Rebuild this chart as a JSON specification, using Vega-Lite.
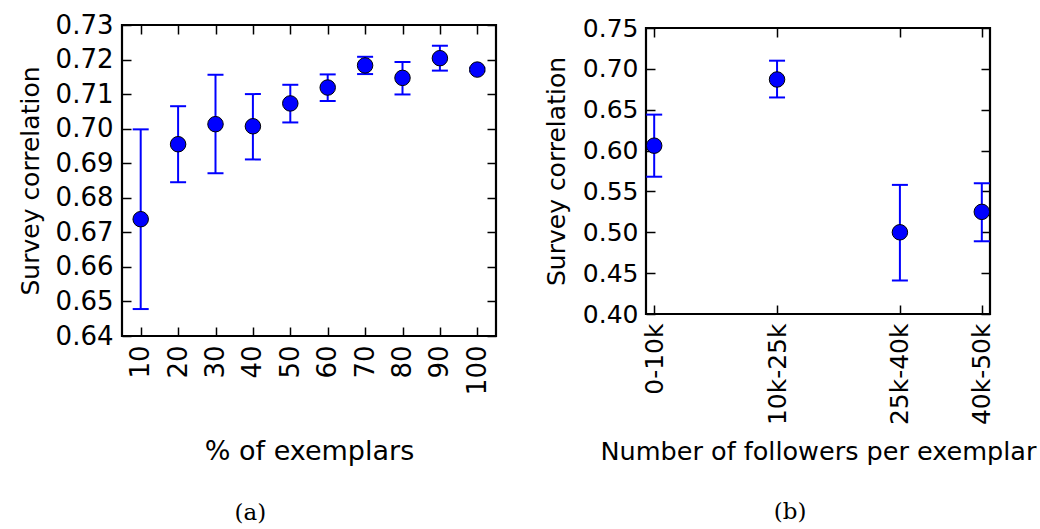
{
  "$schema": "https://vega.github.io/schema/vega-lite/v6.json",
  "background": "white",
  "padding": {"left": 17, "top": 9, "right": 0, "bottom": 0},
  "datasets": {
    "a": [
      {"pct": 10, "r": 0.6738, "lo": 0.6478, "hi": 0.6998},
      {"pct": 20, "r": 0.6955, "lo": 0.6845, "hi": 0.7065},
      {"pct": 30, "r": 0.7013, "lo": 0.6871, "hi": 0.7156},
      {"pct": 40, "r": 0.7007, "lo": 0.6911, "hi": 0.7100},
      {"pct": 50, "r": 0.7073, "lo": 0.7018, "hi": 0.7127},
      {"pct": 60, "r": 0.7119, "lo": 0.7080, "hi": 0.7157},
      {"pct": 70, "r": 0.7183, "lo": 0.7158, "hi": 0.7208},
      {"pct": 80, "r": 0.7147, "lo": 0.7099, "hi": 0.7193},
      {"pct": 90, "r": 0.7204, "lo": 0.7168, "hi": 0.7240},
      {"pct": 100, "r": 0.7171, "lo": 0.7166, "hi": 0.7176}
    ],
    "b": [
      {"bin": "0-10k", "k": 10, "r": 0.606, "lo": 0.568, "hi": 0.644},
      {"bin": "10k-25k", "k": 25, "r": 0.687, "lo": 0.665, "hi": 0.710},
      {"bin": "25k-40k", "k": 40, "r": 0.500, "lo": 0.441, "hi": 0.558},
      {"bin": "40k-50k", "k": 50, "r": 0.525, "lo": 0.489, "hi": 0.560}
    ],
    "empty": []
  },
  "config": {
    "view": {"stroke": "black", "strokeWidth": 2.2},
    "axis": {
      "domain": false, "grid": false,
      "labelFont": "DejaVu Sans", "titleFont": "DejaVu Sans",
      "labelColor": "black", "titleColor": "black", "tickColor": "black",
      "titleFontWeight": "normal", "tickWidth": 1.5
    }
  },
  "spacing": 45,
  "hconcat": [
    {
      "spacing": 0,
      "vconcat": [
        {"width": 1, "height": 1, "data": {"name": "empty"}, "mark": "point", "view": {"stroke": null}},
        {
          "width": 374, "height": 311,
          "data": {"name": "a"},
          "title": {"text": "(a)", "orient": "bottom", "anchor": "middle", "frame": "bounds", "font": "DejaVu Serif", "fontSize": 23, "fontWeight": "normal", "color": "black", "offset": 37, "dx": -7},
          "layer": [
            {
              "mark": {"type": "rule", "color": "#0000ff", "strokeWidth": 2},
              "encoding": {
                "x": {"field": "pct", "type": "quantitative", "scale": {"domain": [5, 105], "nice": false, "zero": false},
                  "axis": {"orient": "bottom", "values": [10,20,30,40,50,60,70,80,90,100], "labelAngle": -90, "labelFontSize": 26, "tickSize": -9, "labelPadding": 18, "title": "% of exemplars", "titleFontSize": 27, "titlePadding": 44}},
                "y": {"field": "lo", "type": "quantitative", "scale": {"domain": [0.64, 0.73], "nice": false, "zero": false},
                  "axis": {"orient": "left", "values": [0.64,0.65,0.66,0.67,0.68,0.69,0.70,0.71,0.72,0.73], "format": ".2f", "labelFontSize": 26, "tickSize": -9, "labelPadding": 18, "title": "Survey correlation", "titleFontSize": 25, "titlePadding": 12}},
                "y2": {"field": "hi"}
              }
            },
            {
              "mark": {"type": "tick", "orient": "horizontal", "color": "#0000ff", "size": 16, "thickness": 2, "opacity": 1},
              "encoding": {
                "x": {"field": "pct", "type": "quantitative", "axis": null},
                "y": {"field": "lo", "type": "quantitative", "axis": null}
              }
            },
            {
              "mark": {"type": "tick", "orient": "horizontal", "color": "#0000ff", "size": 16, "thickness": 2, "opacity": 1},
              "encoding": {
                "x": {"field": "pct", "type": "quantitative", "axis": null},
                "y": {"field": "hi", "type": "quantitative", "axis": null}
              }
            },
            {
              "mark": {"type": "point", "shape": "circle", "filled": true, "fill": "#0000ff", "stroke": "black", "strokeWidth": 1, "size": 240, "opacity": 1},
              "encoding": {
                "x": {"field": "pct", "type": "quantitative",
                  "axis": {"orient": "top", "values": [10,20,30,40,50,60,70,80,90,100], "labels": false, "tickSize": -9, "title": null}},
                "y": {"field": "r", "type": "quantitative",
                  "axis": {"orient": "right", "values": [0.64,0.65,0.66,0.67,0.68,0.69,0.70,0.71,0.72,0.73], "labels": false, "tickSize": -9, "title": null}}
              }
            }
          ],
          "resolve": {"axis": {"x": "independent", "y": "independent"}}
        }
      ]
    },
    {
      "spacing": 0,
      "vconcat": [
        {"width": 1, "height": 5, "data": {"name": "empty"}, "mark": "point", "view": {"stroke": null}},
        {
          "width": 344, "height": 286,
          "data": {"name": "b"},
          "title": {"text": "(b)", "orient": "bottom", "anchor": "middle", "frame": "bounds", "font": "DejaVu Serif", "fontSize": 23, "fontWeight": "normal", "color": "black", "offset": 36},
          "layer": [
            {
              "mark": {"type": "rule", "color": "#0000ff", "strokeWidth": 2},
              "encoding": {
                "x": {"field": "k", "type": "quantitative", "scale": {"domain": [9, 51], "nice": false, "zero": false},
                  "axis": {"orient": "bottom", "values": [10, 25, 40, 50], "labelExpr": "datum.value == 10 ? '0-10k' : datum.value == 25 ? '10k-25k' : datum.value == 40 ? '25k-40k' : '40k-50k'", "labelAngle": -90, "labelFontSize": 25, "tickSize": -9, "labelPadding": 18, "title": "Number of followers per exemplar", "titleFontSize": 25.5, "titlePadding": 15}},
                "y": {"field": "lo", "type": "quantitative", "scale": {"domain": [0.40, 0.75], "nice": false, "zero": false},
                  "axis": {"orient": "left", "values": [0.40,0.45,0.50,0.55,0.60,0.65,0.70,0.75], "format": ".2f", "labelFontSize": 25, "tickSize": -9, "labelPadding": 17, "title": "Survey correlation", "titleFontSize": 25, "titlePadding": 13}},
                "y2": {"field": "hi"}
              }
            },
            {
              "mark": {"type": "tick", "orient": "horizontal", "color": "#0000ff", "size": 16, "thickness": 2, "opacity": 1},
              "encoding": {
                "x": {"field": "k", "type": "quantitative", "axis": null},
                "y": {"field": "lo", "type": "quantitative", "axis": null}
              }
            },
            {
              "mark": {"type": "tick", "orient": "horizontal", "color": "#0000ff", "size": 16, "thickness": 2, "opacity": 1},
              "encoding": {
                "x": {"field": "k", "type": "quantitative", "axis": null},
                "y": {"field": "hi", "type": "quantitative", "axis": null}
              }
            },
            {
              "mark": {"type": "point", "shape": "circle", "filled": true, "fill": "#0000ff", "stroke": "black", "strokeWidth": 1, "size": 240, "opacity": 1},
              "encoding": {
                "x": {"field": "k", "type": "quantitative",
                  "axis": {"orient": "top", "values": [10, 25, 40, 50], "labels": false, "tickSize": -9, "title": null}},
                "y": {"field": "r", "type": "quantitative",
                  "axis": {"orient": "right", "values": [0.40,0.45,0.50,0.55,0.60,0.65,0.70,0.75], "labels": false, "tickSize": -9, "title": null}}
              }
            }
          ],
          "resolve": {"axis": {"x": "independent", "y": "independent"}}
        }
      ]
    }
  ]
}
